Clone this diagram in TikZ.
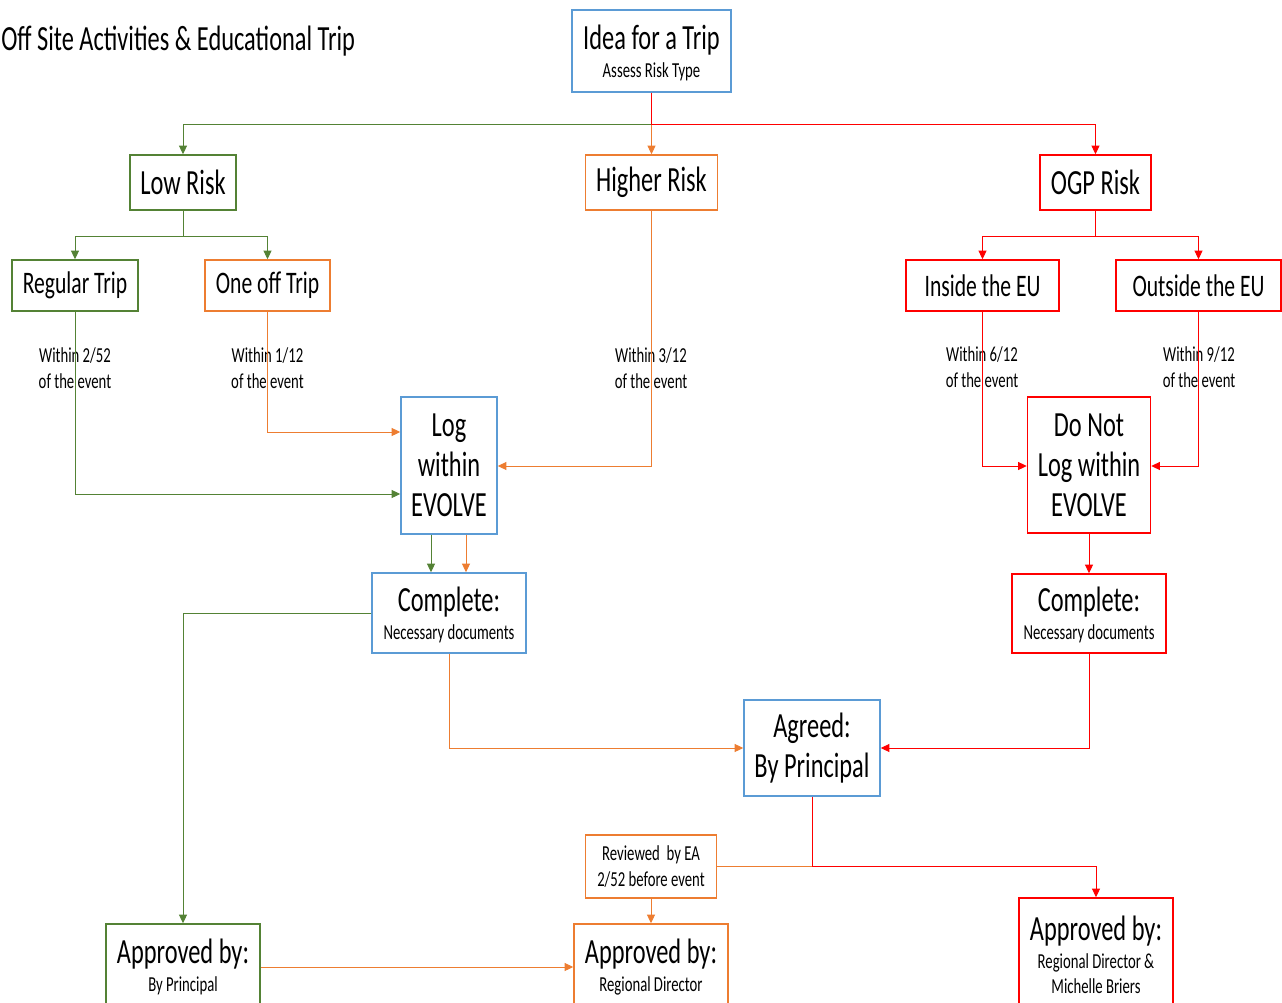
\documentclass[tikz,border=0pt]{standalone}
\usepackage{fontspec}
\setmainfont{Carlito}[FakeStretch=0.69]
\usepackage{tikz}
\usetikzlibrary{arrows.meta}

\definecolor{tripblue}{RGB}{91,155,213}
\definecolor{triporange}{RGB}{237,125,49}
\definecolor{tripred}{RGB}{255,0,0}
\definecolor{tripgreen}{RGB}{84,130,53}

\newcommand{\bigtxt}{\fontsize{26.5}{30}\selectfont}
\newcommand{\midtxt}{\fontsize{23.5}{28}\selectfont}
\newcommand{\smalltxt}{\fontsize{16}{19.5}\selectfont}

\tikzset{
  riskbox/.style={draw=#1, line width=1.1pt, fill=white, inner sep=0pt, align=center, font=\bigtxt},
  link/.style={draw=#1, line width=0.75pt, -{Triangle[length=6.5pt,width=6pt]}},
  plainlink/.style={draw=#1, line width=0.75pt},
  note/.style={inner sep=0pt, align=center, font=\smalltxt},
}

\begin{document}
\begin{tikzpicture}[x=0.75pt,y=0.75pt,yscale=-1,xscale=1]
\useasboundingbox (0,0) rectangle (1282,1003);

% Title
\node[anchor=base west, inner sep=0pt, font=\bigtxt] (title) at (1,50) {Off Site Activities \& Educational Trip};

% Boxes
\node[riskbox=tripblue, minimum width=119.25pt, minimum height=61.5pt, text depth=0pt] (idea) at (651.5,51) {Idea for a Trip\\[-9pt]{\smalltxt Assess Risk Type}};
\node[riskbox=tripgreen, minimum width=79.5pt, minimum height=41.25pt] (low) at (183,182.5) {Low Risk};
\node[riskbox=triporange, minimum width=99pt, minimum height=41.25pt] (higher) at (651.5,182.5) {Higher Risk};
\node[riskbox=tripred, minimum width=83.25pt, minimum height=41.25pt] (ogp) at (1095.5,182.5) {OGP Risk};
\node[riskbox=tripgreen, minimum width=94.5pt, minimum height=38.25pt, font=\midtxt] (regular) at (75,285.5) {Regular Trip};
\node[riskbox=triporange, minimum width=93.75pt, minimum height=38.25pt, font=\midtxt] (oneoff) at (267.5,285.5) {One off Trip};
\node[riskbox=tripred, minimum width=114.75pt, minimum height=38.25pt, font=\midtxt] (inside) at (982.5,285.5) {Inside the EU};
\node[riskbox=tripred, minimum width=123.75pt, minimum height=38.25pt, font=\midtxt] (outside) at (1198.5,285.5) {Outside the EU};
\node[riskbox=tripblue, minimum width=72pt, minimum height=102.75pt] (log) at (449,465.5) {Log\\within\\EVOLVE};
\node[riskbox=tripred, minimum width=92.25pt, minimum height=102pt] (donot) at (1089,465) {Do Not\\Log within\\EVOLVE};
\node[riskbox=tripblue, minimum width=115.5pt, minimum height=60pt, text depth=0pt] (compL) at (449,613) {Complete:\\[-9pt]{\smalltxt Necessary documents}};
\node[riskbox=tripred, minimum width=115.5pt, minimum height=59.25pt, text depth=0pt] (compR) at (1089,613.5) {Complete:\\[-9pt]{\smalltxt Necessary documents}};
\node[riskbox=tripblue, minimum width=102pt, minimum height=72pt] (agreed) at (812,748) {Agreed:\\By Principal};
\node[riskbox=triporange, minimum width=98.25pt, minimum height=47.25pt, font=\smalltxt] (reviewed) at (651,866.5) {Reviewed\ \ by EA\\2/52 before event};
\node[riskbox=tripgreen, minimum width=115.5pt, minimum height=64.5pt] (apprL) at (183,967) {Approved by:\\[-9.5pt]{\smalltxt By Principal}};
\node[riskbox=triporange, minimum width=115.5pt, minimum height=64.5pt] (apprM) at (651,967) {Approved by:\\[-9.5pt]{\smalltxt Regional Director}};
\node[riskbox=tripred, minimum width=115.5pt, minimum height=85.5pt] (apprR) at (1096,955) {Approved by:\\[-9pt]{\smalltxt Regional Director \&}\\[-11pt]{\smalltxt Michelle Briers}};

% Text Node
\node[note] (within1) at (75,368) {Within 2/52\\of the event};
\node[note] (within2) at (267.5,368) {Within 1/12\\of the event};
\node[note] (within3) at (651,368) {Within 3/12\\of the event};
\node[note] (within4) at (982,367) {Within 6/12\\of the event};
\node[note] (within5) at (1199,367) {Within 9/12\\of the event};

% Bends
\coordinate (ideasplit) at (651.5,124);
\coordinate (lowsplit) at (183,236);
\coordinate (ogpsplit) at (1095.5,236);
\coordinate (regbend) at (75,494);
\coordinate (onebend) at (267.5,432);
\coordinate (highbend) at (651.5,466);
\coordinate (insbend) at (982.5,466);
\coordinate (outbend) at (1198.5,466);
\coordinate (loggreen) at ([xshift=-13.5pt]log.south);
\coordinate (logorange) at ([xshift=12.75pt]log.south);
\coordinate (agreedsplit) at (agreed.south |- reviewed.east);

%Straight Lines
\draw[link=tripgreen] (idea.south) -- (ideasplit) -| (low.north);
\draw[link=triporange] (ideasplit) -- (higher.north);
\draw[link=tripred] (idea.south) -- (ideasplit) -| (ogp.north);
\draw[link=tripgreen] (low.south) -- (lowsplit) -| (regular.north);
\draw[link=tripgreen] (lowsplit) -| (oneoff.north);
\draw[link=tripred] (ogp.south) -- (ogpsplit) -| (inside.north);
\draw[link=tripred] (ogpsplit) -| (outside.north);
\draw[link=tripgreen] (regular.south) -- (regbend) -- (regbend -| log.west);
\draw[link=triporange] (oneoff.south) -- (onebend) -- (onebend -| log.west);
\draw[link=triporange] (higher.south) -- (highbend) -- (highbend -| log.east);
\draw[link=tripred] (inside.south) -- (insbend) -- (insbend -| donot.west);
\draw[link=tripred] (outside.south) -- (outbend) -- (outbend -| donot.east);
\draw[link=tripgreen] (loggreen) -- (loggreen |- compL.north);
\draw[link=triporange] (logorange) -- (logorange |- compL.north);
\draw[link=tripred] (donot.south) -- (compR.north);
\draw[link=tripgreen] (compL.west) -| (apprL.north);
\draw[link=triporange] (compL.south) |- (agreed.west);
\draw[link=tripred] (compR.south) |- (agreed.east);
\draw[plainlink=triporange] (agreedsplit) -- (reviewed.east);
\draw[link=tripred] (agreed.south) -- (agreedsplit) -| (apprR.north);
\draw[link=triporange] (reviewed.south) -- (apprM.north);
\draw[link=triporange] (apprL.east) -- (apprM.west);

\end{tikzpicture}
\end{document}
